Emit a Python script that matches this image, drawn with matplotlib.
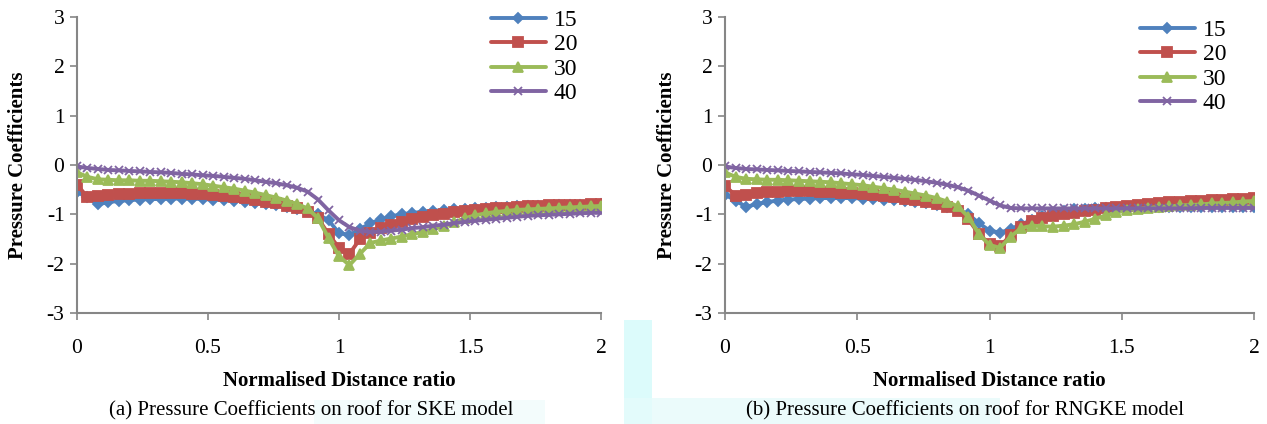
import numpy as np
import matplotlib
matplotlib.use("Agg")
import matplotlib.pyplot as plt
from matplotlib.patches import Rectangle

x = [round(0.04 * i, 2) for i in range(51)]
series_names = ["15", "20", "30", "40"]

ske_15 = [-0.55, -0.65, -0.80, -0.75, -0.73, -0.71, -0.70, -0.69, -0.69, -0.68,
          -0.68, -0.68, -0.69, -0.70, -0.71, -0.72, -0.74, -0.77, -0.79, -0.82,
          -0.85, -0.89, -0.93, -1.00, -1.12, -1.38, -1.42, -1.30, -1.18, -1.10,
          -1.04, -1.00, -0.97, -0.95, -0.93, -0.91, -0.90, -0.89, -0.88, -0.87,
          -0.86, -0.85, -0.84, -0.84, -0.83, -0.83, -0.82, -0.82, -0.81, -0.81, -0.80]
ske_20 = [-0.40, -0.65, -0.63, -0.61, -0.59, -0.58, -0.57, -0.56, -0.56, -0.56,
          -0.57, -0.58, -0.59, -0.61, -0.62, -0.64, -0.67, -0.70, -0.74, -0.78,
          -0.83, -0.88, -0.95, -1.08, -1.40, -1.68, -1.80, -1.50, -1.38, -1.28,
          -1.21, -1.15, -1.10, -1.06, -1.02, -0.99, -0.96, -0.94, -0.92, -0.90,
          -0.88, -0.87, -0.85, -0.84, -0.83, -0.82, -0.82, -0.81, -0.81, -0.80, -0.80]
ske_30 = [-0.15, -0.24, -0.29, -0.30, -0.31, -0.31, -0.32, -0.32, -0.33, -0.34,
          -0.35, -0.37, -0.39, -0.42, -0.45, -0.48, -0.52, -0.56, -0.61, -0.66,
          -0.72, -0.79, -0.88, -1.08, -1.48, -1.85, -2.03, -1.80, -1.58, -1.53,
          -1.49, -1.45, -1.40, -1.36, -1.30, -1.24, -1.16, -1.08, -1.02, -0.98,
          -0.95, -0.93, -0.91, -0.90, -0.89, -0.88, -0.87, -0.86, -0.85, -0.84, -0.83]
ske_40 = [-0.03, -0.06, -0.08, -0.10, -0.11, -0.12, -0.13, -0.14, -0.15, -0.16,
          -0.18, -0.19, -0.21, -0.22, -0.24, -0.26, -0.28, -0.31, -0.34, -0.37,
          -0.41, -0.46, -0.54, -0.70, -0.92, -1.12, -1.26, -1.33, -1.36, -1.35,
          -1.33, -1.31, -1.28, -1.26, -1.23, -1.21, -1.18, -1.15, -1.13, -1.11,
          -1.09, -1.07, -1.05, -1.03, -1.02, -1.01, -1.00, -0.99, -0.98, -0.97, -0.97]

rng_15 = [-0.60, -0.72, -0.85, -0.79, -0.75, -0.72, -0.70, -0.69, -0.68, -0.67,
          -0.67, -0.67, -0.67, -0.68, -0.69, -0.70, -0.71, -0.73, -0.75, -0.78,
          -0.81, -0.85, -0.90, -1.00, -1.18, -1.33, -1.37, -1.30, -1.20, -1.12,
          -1.04, -0.97, -0.93, -0.90, -0.89, -0.88, -0.87, -0.87, -0.87, -0.86,
          -0.86, -0.86, -0.86, -0.86, -0.86, -0.86, -0.86, -0.86, -0.86, -0.86, -0.86]
rng_20 = [-0.42, -0.62, -0.60, -0.57, -0.55, -0.54, -0.53, -0.53, -0.53, -0.54,
          -0.55, -0.56, -0.57, -0.59, -0.61, -0.63, -0.65, -0.68, -0.71, -0.75,
          -0.80, -0.86, -0.94, -1.10, -1.40, -1.60, -1.65, -1.42, -1.25, -1.14,
          -1.08, -1.04, -1.00, -0.97, -0.94, -0.91, -0.88, -0.85, -0.83, -0.81,
          -0.79, -0.77, -0.75, -0.74, -0.73, -0.72, -0.71, -0.70, -0.69, -0.68, -0.67]
rng_30 = [-0.15, -0.24, -0.28, -0.29, -0.30, -0.30, -0.31, -0.32, -0.33, -0.34,
          -0.35, -0.37, -0.39, -0.41, -0.44, -0.47, -0.50, -0.54, -0.58, -0.62,
          -0.67, -0.74, -0.84, -1.05, -1.40, -1.62, -1.68, -1.45, -1.28, -1.23,
          -1.24, -1.25, -1.23, -1.20, -1.15, -1.09, -1.02, -0.96, -0.92, -0.89,
          -0.87, -0.85, -0.84, -0.82, -0.81, -0.80, -0.78, -0.77, -0.76, -0.74, -0.73]
rng_40 = [-0.03, -0.06, -0.08, -0.09, -0.10, -0.11, -0.12, -0.13, -0.14, -0.15,
          -0.16, -0.17, -0.19, -0.20, -0.22, -0.24, -0.26, -0.28, -0.30, -0.33,
          -0.36, -0.40, -0.45, -0.52, -0.62, -0.72, -0.82, -0.87, -0.88, -0.88,
          -0.88, -0.88, -0.88, -0.88, -0.88, -0.88, -0.88, -0.88, -0.88, -0.88,
          -0.88, -0.88, -0.88, -0.88, -0.88, -0.87, -0.87, -0.87, -0.87, -0.87, -0.87]

x_ticks = [0, 0.5, 1, 1.5, 2]
x_tick_labels = ["0", "0.5", "1", "1.5", "2"]
y_ticks = [-3, -2, -1, 0, 1, 2, 3]
y_tick_labels = ["-3", "-2", "-1", "0", "1", "2", "3"]

captions = ["(a) Pressure Coefficients on roof for SKE model",
            "(b) Pressure Coefficients on roof for RNGKE model"]
xlabel = "Normalised Distance ratio"
ylabel = "Pressure Coefficients"

colors = ["#4F81BD", "#C0504D", "#9BBB59", "#8064A2"]
markers = ["D", "s", "^", "x"]
msizes = [5, 7, 7, 6]

plt.rcParams["font.family"] = ["Liberation Serif", "DejaVu Serif"]

W, H = 1267, 424
fig = plt.figure(figsize=(W / 100, H / 100), dpi=100)

# faint cyan scan artifacts in the background
def px_rect(x0, y0, x1, y1, color, alpha=1.0):
    fig.patches.append(Rectangle((x0 / W, 1 - y1 / H), (x1 - x0) / W, (y1 - y0) / H,
                                 transform=fig.transFigure, facecolor=color,
                                 edgecolor="none", alpha=alpha, zorder=0))

px_rect(624, 320, 652, 424, "#dcfbfb")
px_rect(624, 398, 1000, 424, "#e6fbfb", 0.8)
px_rect(314, 400, 545, 424, "#eefcfc", 0.7)

ax_boxes = [(77, 17, 601, 313), (725, 17, 1254, 313)]
data = [[ske_15, ske_20, ske_30, ske_40], [rng_15, rng_20, rng_30, rng_40]]
legend_anchor = [(594, -7), (1243, 3)]
ylabel_x = [28, 677]
caption_cx = [311, 965]

for k in range(2):
    x0, y0, x1, y1 = ax_boxes[k]
    ax = fig.add_axes([x0 / W, 1 - y1 / H, (x1 - x0) / W, (y1 - y0) / H])
    ax.patch.set_alpha(0)
    for i, ys in enumerate(data[k]):
        ax.plot(x, ys, color=colors[i], lw=2.8, marker=markers[i], ms=msizes[i],
                mew=1.3, label=series_names[i], solid_capstyle="round")
    ax.set_xlim(0, 2)
    ax.set_ylim(-3, 3)
    ax.set_xticks(x_ticks)
    ax.set_xticklabels(x_tick_labels)
    ax.set_yticks(y_ticks)
    ax.set_yticklabels(y_tick_labels)
    for s in ["top", "right"]:
        ax.spines[s].set_visible(False)
    for s in ["left", "bottom"]:
        ax.spines[s].set_color("#868686")
        ax.spines[s].set_linewidth(1.5)
    ax.tick_params(axis="x", direction="out", length=5, width=1.2, color="#868686",
                   labelsize=15.5, pad=14)
    ax.tick_params(axis="y", direction="out", length=5, width=1.2, color="#868686",
                   labelsize=15.5, pad=4)
    ax.set_xlabel(xlabel, fontsize=15, fontweight="bold", labelpad=9)
    ax.set_ylabel(ylabel, fontsize=15, fontweight="bold")
    ax.yaxis.set_label_coords((ylabel_x[k] - x0) / (x1 - x0), 0.5)
    lx, ly = legend_anchor[k]
    leg = ax.legend(loc="upper right", bbox_to_anchor=(lx / W, 1 - ly / H),
                    bbox_transform=fig.transFigure, frameon=False, fontsize=17,
                    handlelength=2.3, handletextpad=0.35, labelspacing=0.12,
                    borderpad=0.2)
    fig.text(caption_cx[k] / W, 1 - 411 / H, captions[k], ha="center", va="center",
             fontsize=15)

fig.savefig("out.png", dpi=100)
